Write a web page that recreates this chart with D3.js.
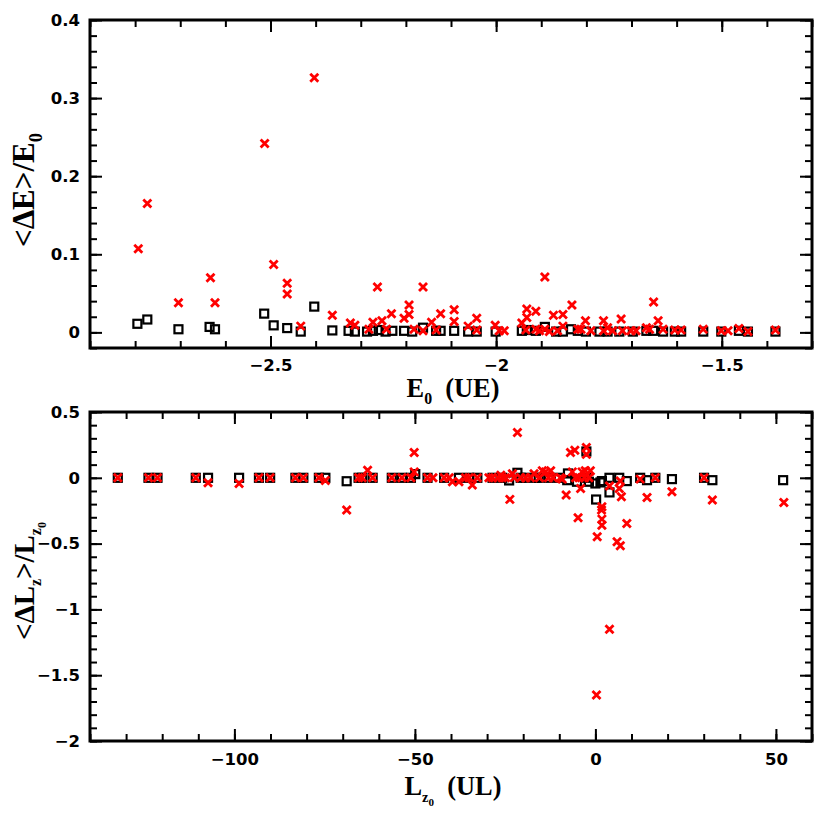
<!DOCTYPE html>
<html>
<head>
<meta charset="utf-8">
<script src="https://cdn.jsdelivr.net/npm/d3@7"></script>
<style>
  html, body { margin: 0; padding: 0; background: #fff; }
  svg { display: block; }
  .tick text { font-family: "DejaVu Sans", sans-serif; font-weight: bold; font-size: 16.5px; fill: #000; }
  .tick line { stroke: #000; stroke-width: 2; }
  .title { font-family: "Liberation Serif", "Times New Roman", serif; font-weight: bold; fill: #000; }
</style>
</head>
<body>
<script>
// ---------------- data ----------------
// top panel: <dE>/E0 versus E0 (UE)
const energySquares = [
  [-2.795,0.011],[-2.773,0.0165],[-2.704,0.004],[-2.635,0.007],[-2.623,0.004],
  [-2.514,0.024],[-2.493,0.009],[-2.463,0.0055],[-2.433,0.001],[-2.403,0.033],
  [-2.363,0.0025],[-2.327,0.002],[-2.313,0.001],[-2.286,0.001],[-2.273,0.002],
  [-2.260,0.003],[-2.245,0.001],[-2.230,0.002],[-2.204,0.002],[-2.186,0.001],
  [-2.162,0.006],[-2.133,0.002],[-2.123,0.002],[-2.093,0.002],[-2.062,0.001],
  [-2.043,0.001],[-2.001,0.001],[-1.943,0.002],[-1.932,0.003],[-1.912,0.002],
  [-1.892,0.007],[-1.867,0.001],[-1.852,0.001],[-1.834,0.004],[-1.819,0.002],
  [-1.801,0.001],[-1.771,0.001],[-1.753,0.001],[-1.727,0.001],[-1.697,0.001],
  [-1.667,0.002],[-1.652,0.002],[-1.630,0.001],[-1.604,0.001],[-1.590,0.001],
  [-1.541,0.001],[-1.501,0.001],[-1.462,0.002],[-1.442,0.001],[-1.381,0.001]
];
const energyCrosses = [
  [-2.793,0.107],[-2.773,0.165],[-2.704,0.038],[-2.633,0.070],[-2.623,0.038],
  [-2.513,0.242],[-2.493,0.087],[-2.463,0.063],[-2.463,0.049],[-2.433,0.008],
  [-2.403,0.326],[-2.363,0.022],[-2.323,0.012],[-2.313,0.009],[-2.282,0.004],
  [-2.273,0.013],[-2.263,0.058],[-2.253,0.015],[-2.243,0.004],[-2.232,0.024],
  [-2.204,0.018],[-2.193,0.035],[-2.193,0.023],[-2.182,0.004],[-2.162,0.058],
  [-2.162,0.002],[-2.143,0.013],[-2.133,0.003],[-2.123,0.024],[-2.093,0.029],
  [-2.093,0.014],[-2.062,0.008],[-2.043,0.018],[-2.043,0.003],[-2.002,0.009],
  [-1.993,0.002],[-1.982,0.002],[-1.943,0.012],[-1.932,0.030],[-1.932,0.019],
  [-1.934,0.003],[-1.912,0.027],[-1.912,0.004],[-1.892,0.071],[-1.892,0.004],
  [-1.904,0.002],[-1.882,0.001],[-1.873,0.022],[-1.864,0.002],[-1.852,0.023],
  [-1.852,0.008],[-1.832,0.035],[-1.819,0.004],[-1.812,0.004],[-1.802,0.015],
  [-1.790,0.002],[-1.762,0.015],[-1.762,0.002],[-1.753,0.006],[-1.742,0.002],
  [-1.723,0.017],[-1.720,0.002],[-1.701,0.002],[-1.690,0.002],[-1.667,0.006],
  [-1.660,0.004],[-1.651,0.039],[-1.641,0.015],[-1.630,0.004],[-1.604,0.003],
  [-1.590,0.003],[-1.541,0.004],[-1.501,0.002],[-1.486,0.002],[-1.462,0.005],
  [-1.442,0.001],[-1.381,0.003]
];
// bottom panel: <dLz>/Lz0 versus Lz0 (UL)
const lzSquares = [
  [-132.3,0],[-123.8,0],[-121.3,0],[-110.7,0],[-107.3,0],[-98.7,0],[-93.2,0],
  [-90.1,0],[-83.1,0],[-80.9,0],[-76.6,0],[-74.8,0],[-68.9,-0.026],[-65.6,0],
  [-64.6,0],[-61.7,0],[-56.4,0],[-53.6,0],[-51.1,0],[-49.9,0.028],[-46.5,0],
  [-41.9,0],[-37.8,0],[-35.0,0],[-32.7,0],[-28.5,0],[-25.8,0],[-23.9,-0.02],
  [-21.6,0.038],[-20.7,0],[-19.3,0],[-16.6,0],[-15.7,0],[-12.9,0],[-10.1,0],
  [-7.8,-0.018],[-7.6,0.033],[-5.1,-0.03],[-2.6,0],[-2.5,0.2],[-1.8,-0.03],
  [0,-0.043],[0.2,-0.165],[1.4,-0.035],[1.8,-0.025],[3.9,0],[3.9,-0.111],
  [6.6,0],[8.7,-0.025],[12.4,0],[14.3,-0.018],[16.6,0],[21.2,-0.01],[30.1,0],
  [32.4,-0.018],[52,-0.018]
];
const lzCrosses = [
  [-132.3,0],[-123.8,0],[-121.3,0],[-110.7,0],[-107.3,-0.038],[-98.7,-0.043],
  [-93.2,0],[-90.1,0],[-83.1,0],[-80.9,0],[-76.6,0],[-74.8,-0.02],[-68.9,-0.245],
  [-65.6,0],[-64.6,0],[-63.1,0.058],[-61.7,0],[-56.4,0],[-53.6,0],[-51.1,0],
  [-50.2,0.193],[-50.2,0.045],[-46.5,0],[-45,0],[-41.9,0],[-40.5,0],[-39.6,-0.03],
  [-37.8,-0.03],[-36,0],[-35.0,0],[-34.1,-0.055],[-32.7,0],[-29.5,0],[-28.5,0],
  [-27,0],[-26.2,0.02],[-25.8,0],[-24.9,0],[-23.7,-0.164],[-23.0,0.03],
  [-22.5,0],[-21.6,0.345],[-20.7,0],[-19.3,0],[-18,0],[-17.0,0.03],[-15.5,0],
  [-14.7,0.053],[-13.8,0.045],[-13,0],[-12.4,0.053],[-11.7,0],[-9.7,0],
  [-9.2,-0.01],[-8.1,-0.13],[-6.9,0.193],[-5.7,0.21],[-6.4,0.045],[-5.5,0],
  [-4.8,-0.304],[-4.5,0],[-4.1,-0.081],[-3.7,0.045],[-3,0],[-2.8,0.053],
  [-2.5,0.23],[-2.5,0.178],[-1.8,0],[-1.4,0.053],[0.5,-0.448],[0.3,-1.65],
  [1.8,-0.22],[1.7,-0.245],[1.8,-0.314],[1.8,-0.36],[3.9,-0.063],[3.9,-1.15],
  [6.0,-0.486],[6.9,-0.517],[6.9,-0.025],[6.6,-0.081],[7.2,-0.144],[8.7,-0.347],
  [12.4,-0.01],[14.3,-0.149],[16.6,0],[21.2,-0.106],[30.1,0],[32.4,-0.169],
  [52.2,-0.187]
];
// ticks
const topXMajor = [-2.5, -2, -1.5];
const topXMinorStep = 0.1;
const topYMajor = [0, 0.1, 0.2, 0.3, 0.4];
const topYMinorStep = 0.02;
const botXMajor = [-100, -50, 0, 50];
const botXMinorStep = 10;
const botYMajor = [-2, -1.5, -1, -0.5, 0, 0.5];
const botYMinorStep = 0.1;

// ---------------- drawing ----------------
const W = 830, H = 830;
const svg = d3.select("body").append("svg").attr("width", W).attr("height", H);
const fmt = d => d3.format("")(+(+d).toFixed(3));

function minorTicks(domain, step) {
  const out = [];
  const n0 = Math.ceil(domain[0] / step - 1e-9), n1 = Math.floor(domain[1] / step + 1e-9);
  for (let i = n0; i <= n1; i++) out.push(+(i * step).toFixed(6));
  return out;
}

function panel(cfg) {
  const x = d3.scaleLinear().domain(cfg.xDomain).range([cfg.left, cfg.right]);
  const y = d3.scaleLinear().domain(cfg.yDomain).range([cfg.bottom, cfg.top]);
  const g = svg.append("g");
  const xMin = minorTicks(cfg.xDomain, cfg.xStep), yMin = minorTicks(cfg.yDomain, cfg.yStep);
  const MAJ = 12, MIN = 7;
  function add(gen, tr) {
    const a = g.append("g").attr("transform", tr).call(gen);
    a.select(".domain").remove();
    return a;
  }
  add(d3.axisBottom(x).tickValues(xMin).tickSize(-MIN).tickFormat(""), `translate(0,${cfg.bottom})`);
  add(d3.axisBottom(x).tickValues(cfg.xMajor).tickSize(-MAJ).tickPadding(cfg.xPad).tickFormat(fmt), `translate(0,${cfg.bottom})`);
  add(d3.axisTop(x).tickValues(xMin).tickSize(-MIN).tickFormat(""), `translate(0,${cfg.top})`);
  add(d3.axisTop(x).tickValues(cfg.xMajor).tickSize(-MAJ).tickFormat(""), `translate(0,${cfg.top})`);
  add(d3.axisLeft(y).tickValues(yMin).tickSize(-MIN).tickFormat(""), `translate(${cfg.left},0)`);
  add(d3.axisLeft(y).tickValues(cfg.yMajor).tickSize(-MAJ).tickPadding(10).tickFormat(fmt), `translate(${cfg.left},0)`);
  add(d3.axisRight(y).tickValues(yMin).tickSize(-MIN).tickFormat(""), `translate(${cfg.right},0)`);
  add(d3.axisRight(y).tickValues(cfg.yMajor).tickSize(-MAJ).tickFormat(""), `translate(${cfg.right},0)`);

  g.append("rect").attr("x", cfg.left).attr("y", cfg.top)
    .attr("width", cfg.right - cfg.left).attr("height", cfg.bottom - cfg.top)
    .attr("fill", "none").attr("stroke", "#000").attr("stroke-width", 3);

  const s = 8;
  g.append("g").selectAll("rect").data(cfg.squares).join("rect")
    .attr("x", d => x(d[0]) - s / 2).attr("y", d => y(d[1]) - s / 2)
    .attr("width", s).attr("height", s)
    .attr("fill", "none").attr("stroke", "#000").attr("stroke-width", 2.2);
  const c = 4;
  g.append("g").selectAll("path").data(cfg.crosses).join("path")
    .attr("d", d => {
      const px = x(d[0]), py = y(d[1]);
      return `M${px - c},${py - c}L${px + c},${py + c}M${px - c},${py + c}L${px + c},${py - c}`;
    })
    .attr("stroke", "#ff0000").attr("stroke-width", 2.8).attr("fill", "none");
}

panel({
  left: 90, right: 812, top: 20, bottom: 348,
  xDomain: [-2.9, -1.3], yDomain: [-0.02, 0.4], xPad: 11,
  xMajor: topXMajor, yMajor: topYMajor, xStep: topXMinorStep, yStep: topYMinorStep,
  squares: energySquares, crosses: energyCrosses
});
panel({
  left: 90, right: 812, top: 412, bottom: 741, xPad: 12,
  xDomain: [-140, 60], yDomain: [-2, 0.5],
  xMajor: botXMajor, yMajor: botYMajor, xStep: botXMinorStep, yStep: botYMinorStep,
  squares: lzSquares, crosses: lzCrosses
});

// ---------------- titles (sized to fit a target length) ----------------
// parts: text, relative size, baseline offset (fraction of base size, positive = down)
function title(x, y, rot, targetLen, parts) {
  const t = svg.append("text").attr("class", "title")
    .attr("text-anchor", "middle")
    .attr("transform", `translate(${x},${y}) rotate(${rot})`);
  const spans = parts.map(p => t.append("tspan").text(p.t));
  function apply(base) {
    t.style("font-size", base + "px");
    let cur = 0;
    parts.forEach((p, i) => {
      const off = (p.off || 0) * base;
      spans[i].style("font-size", ((p.size || 1) * base).toFixed(2) + "px")
        .attr("dy", (off - cur).toFixed(2));
      cur = off;
    });
  }
  apply(27);
  const len = t.node().getComputedTextLength();
  if (len > 0) apply(+(27 * targetLen / len).toFixed(2));
  return t;
}
title(453, 397, 0, 93, [
  { t: "E" }, { t: "0", size: 0.6, off: 0.27 }, { t: "\u2002(UE)" }
]);
title(34, 190, -90, 114, [
  { t: "<ΔE>/E" }, { t: "0", size: 0.6, off: 0.27 }
]);
title(453, 795, 0, 97, [
  { t: "L" }, { t: "z", size: 0.55, off: 0.25 }, { t: "0", size: 0.42, off: 0.42 }, { t: "\u2002(UL)" }
]);
title(34, 581, -90, 118, [
  { t: "<ΔL" }, { t: "z", size: 0.55, off: 0.25 }, { t: ">/L" },
  { t: "z", size: 0.55, off: 0.25 }, { t: "0", size: 0.42, off: 0.42 }
]);
</script>
</body>
</html>
